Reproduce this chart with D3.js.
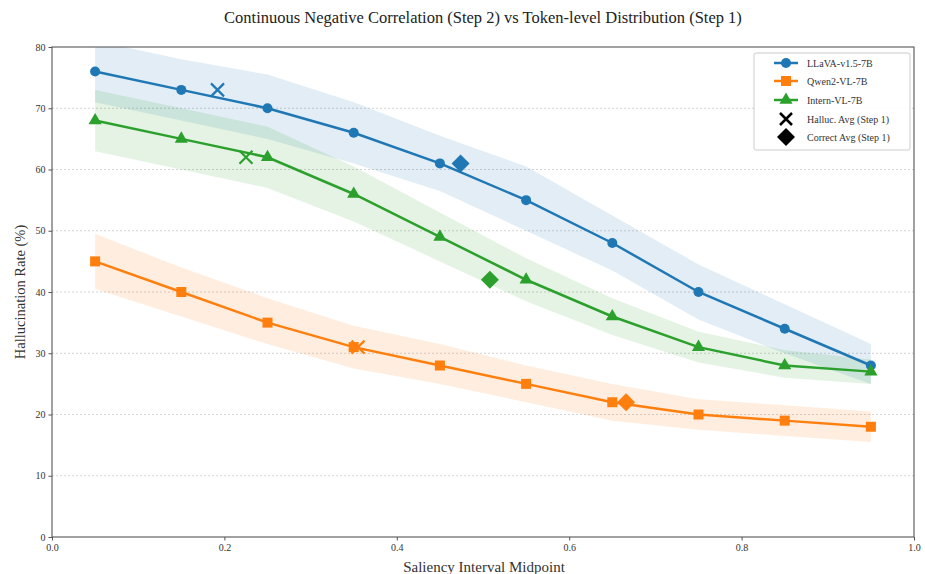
<!DOCTYPE html>
<html><head><meta charset="utf-8">
<script src="https://cdn.jsdelivr.net/npm/d3@7"></script>
<style>body{margin:0;background:#fff}svg{display:block}text{font-family:"Liberation Serif","DejaVu Serif",serif}</style>
</head><body><svg id="c" width="925" height="574"></svg>
<script>
const xs = [0.05,0.15,0.25,0.35,0.45,0.55,0.65,0.75,0.85,0.95];
const llava = [76,73,70,66,61,55,48,40,34,28];
const qwen = [45,40,35,31,28,25,22,20,19,18];
const intern = [68,65,62,56,49,42,36,31,28,27];
const llavaLo = [71,68,65,61,56.5,50,43.5,35.5,30,25];
const llavaHi = [81,78,75.5,71,65.5,60.5,52.5,44.5,38,31.5];
const qwenLo = [40.5,36,31.5,27.5,25,22,19,17.5,16.5,15.5];
const qwenHi = [49.5,44,39,34.5,31.5,28,25,22.5,21.5,20.5];
const internLo = [63,60,57,51.5,45,38.5,33,28.5,26,25];
const internHi = [73,70,67,60.5,53,45.5,39,33.5,30.5,29];
const seriesNames = ["LLaVA-v1.5-7B","Qwen2-VL-7B","Intern-VL-7B"];
const colors = ["#1f77b4","#ff7f0e","#2ca02c"];
const hallucAvg = [[0.192,73],[0.355,31],[0.225,62]];
const correctAvg = [[0.474,61],[0.666,22],[0.508,42]];
const yTicks = [0,10,20,30,40,50,60,70,80];
const xTicks = [0,0.2,0.4,0.6,0.8,1.0];

const svg = d3.select("#c");
const L=52,R=914,T=47,B=537;
const x = d3.scaleLinear().domain([0,1]).range([L,R]);
const y = d3.scaleLinear().domain([0,80]).range([B,T]);

svg.append("text").attr("x",483).attr("y",23).attr("text-anchor","middle").attr("font-size",16.5).attr("fill","#222")
  .text("Continuous Negative Correlation (Step 2) vs Token-level Distribution (Step 1)");

// grid
svg.append("g").selectAll("line").data(yTicks.slice(1,-1)).join("line")
  .attr("x1",L).attr("x2",R).attr("y1",d=>y(d)).attr("y2",d=>y(d))
  .attr("stroke","#c8c8c8").attr("stroke-width",0.8).attr("stroke-dasharray","2,2");

svg.append("clipPath").attr("id","pc").append("rect").attr("x",L).attr("y",T).attr("width",R-L).attr("height",B-T);
const plot = svg.append("g").attr("clip-path","url(#pc)");

const data = [[llava,llavaLo,llavaHi],[qwen,qwenLo,qwenHi],[intern,internLo,internHi]];
const area = d3.area().x((d,i)=>x(xs[i])).y0(d=>y(d[0])).y1(d=>y(d[1]));
data.forEach((s,k)=>{
  plot.append("path").datum(s[1].map((v,i)=>[v,s[2][i]])).attr("d",area)
    .attr("fill",colors[k]).attr("fill-opacity",0.13);
});
const line = d3.line().x((d,i)=>x(xs[i])).y(d=>y(d));
function marker(g,k,cx,cy,scale){
  scale = scale||1;
  if(k===0) g.append("circle").attr("cx",cx).attr("cy",cy).attr("r",5*scale).attr("fill",colors[0]);
  else if(k===1) g.append("rect").attr("x",cx-5*scale).attr("y",cy-5*scale).attr("width",10*scale).attr("height",10*scale).attr("fill",colors[1]);
  else g.append("path").attr("d",d3.symbol(d3.symbolTriangle,75*scale*scale)()).attr("transform",`translate(${cx},${cy})`).attr("fill",colors[2]);
}
data.forEach((s,k)=>{
  plot.append("path").datum(s[0]).attr("d",line).attr("fill","none").attr("stroke",colors[k]).attr("stroke-width",2.5);
  s[0].forEach((v,i)=>marker(plot,k,x(xs[i]),y(v)));
});
function xMark(g,cx,cy,c,s,w){
  g.append("path").attr("d",`M${cx-s},${cy-s}L${cx+s},${cy+s}M${cx-s},${cy+s}L${cx+s},${cy-s}`).attr("stroke",c).attr("stroke-width",w).attr("fill","none");
}
function diamond(g,cx,cy,c,s){
  g.append("path").attr("d",`M${cx},${cy-s}L${cx+s},${cy}L${cx},${cy+s}L${cx-s},${cy}Z`).attr("fill",c);
}
hallucAvg.forEach((p,k)=>xMark(plot,x(p[0]),y(p[1]),colors[k],6.5,2.2));
correctAvg.forEach((p,k)=>diamond(plot,x(p[0]),y(p[1]),colors[k],9));

// frame
svg.append("rect").attr("x",L).attr("y",T).attr("width",R-L).attr("height",B-T).attr("fill","none").attr("stroke","#555").attr("stroke-width",1.1);

// axes
const ya = svg.append("g").attr("transform",`translate(${L},0)`).call(d3.axisLeft(y).tickValues(yTicks).tickSize(3.5).tickFormat(d3.format("d")));
const xa = svg.append("g").attr("transform",`translate(0,${B})`).call(d3.axisBottom(x).tickValues(xTicks).tickSize(3.5).tickFormat(d3.format(".1f")));
[ya,xa].forEach(a=>{a.select(".domain").remove();a.selectAll("line").attr("stroke","#555");a.selectAll("text").attr("font-size",10).attr("fill","#333").style("font-family","Liberation Serif, serif");});

svg.append("text").attr("transform","translate(25,292) rotate(-90)").attr("text-anchor","middle").attr("font-size",14.5).attr("fill","#333").text("Hallucination Rate (%)");
svg.append("text").attr("x",484).attr("y",572).attr("text-anchor","middle").attr("font-size",15).attr("fill","#333").text("Saliency Interval Midpoint");

// legend
const lg = svg.append("g");
lg.append("rect").attr("x",754).attr("y",53).attr("width",156).attr("height",97).attr("fill","#fff").attr("fill-opacity",0.9).attr("stroke","#ccc").attr("rx",2);
const ly = [63,81,100,119,137];
seriesNames.forEach((n,k)=>{
  lg.append("line").attr("x1",774).attr("x2",798).attr("y1",ly[k]).attr("y2",ly[k]).attr("stroke",colors[k]).attr("stroke-width",2.5);
  marker(lg,k,786,ly[k]);
  lg.append("text").attr("x",807).attr("y",ly[k]+3.5).attr("font-size",10).attr("fill","#333").text(n);
});
xMark(lg,786,ly[3],"#000",6,2.5);
lg.append("text").attr("x",807).attr("y",ly[3]+3.5).attr("font-size",10).attr("fill","#333").text("Halluc. Avg (Step 1)");
diamond(lg,786,ly[4],"#000",9);
lg.append("text").attr("x",807).attr("y",ly[4]+3.5).attr("font-size",10).attr("fill","#333").text("Correct Avg (Step 1)");
</script></body></html>
